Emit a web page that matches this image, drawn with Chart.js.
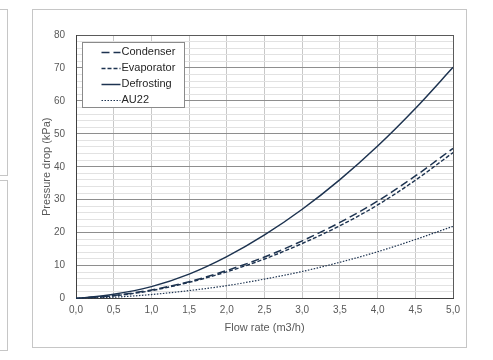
<!DOCTYPE html>
<html>
<head>
<meta charset="utf-8">
<script src="https://cdn.jsdelivr.net/npm/chart.js@4.4.1/dist/chart.umd.min.js"></script>
<style>
  body { margin: 0; width: 493px; height: 360px; background: #fff; overflow: hidden; position: relative; }
  .frame { position: absolute; border: 1px solid #c6c6c6; box-sizing: border-box; }
  #wrap { position: absolute; left: 33px; top: 10px; width: 433px; height: 337px; }
</style>
</head>
<body>
<div class="frame" style="left:-300px; top:9px; width:308px; height:167px;"></div>
<div class="frame" style="left:-300px; top:180px; width:308px; height:171px;"></div>
<div class="frame" style="left:32px; top:9px; width:435px; height:339px;"></div>
<div id="wrap"><canvas id="chart" width="433" height="337"></canvas></div>
<script>
// values
const flowRates = [0, 0.5, 1.0, 1.5, 2.0, 2.5, 3.0, 3.5, 4.0, 4.5, 5.0];
const condenser = [0, 0.9, 2.6, 5.1, 8.5, 12.6, 17.5, 23.1, 29.6, 37.2, 45.6];
const evaporator = [0, 0.8, 2.4, 4.9, 8.1, 12.0, 16.7, 22.1, 28.4, 35.9, 44.3];
const defrosting = [0, 1.3, 3.6, 7.4, 12.7, 19.3, 27.1, 36.1, 46.3, 57.7, 70.2];
const au22 = [0, 0.4, 1.2, 2.4, 3.9, 5.9, 8.2, 11.0, 14.2, 17.9, 21.9];

const seriesNames = ['Condenser', 'Evaporator', 'Defrosting', 'AU22'];
const lineColor = '#1d3350';
const font = "'Liberation Sans', Arial, sans-serif";

function points(values) {
  return values.map((v, i) => ({ x: flowRates[i], y: v }));
}

function series(label, values, dash, width) {
  return {
    label,
    data: points(values),
    borderColor: lineColor,
    borderWidth: width,
    borderDash: dash,
    pointRadius: 0,
    fill: false,
    cubicInterpolationMode: 'monotone',
  };
}

// legend box inside the plot, top left
const boxLegend = {
  id: 'boxLegend',
  afterDatasetsDraw(chart) {
    const { ctx, chartArea } = chart;
    const x = chartArea.left + 6.5;
    const y = chartArea.top + 7.5;
    ctx.save();
    ctx.fillStyle = '#fff';
    ctx.strokeStyle = '#8a8a8a';
    ctx.lineWidth = 1;
    ctx.fillRect(x, y, 102, 65);
    ctx.strokeRect(x, y, 102, 65);
    ctx.font = '11px ' + font;
    ctx.textBaseline = 'middle';
    chart.data.datasets.forEach((ds, i) => {
      const ly = y + 9 + i * 16;
      ctx.strokeStyle = ds.borderColor;
      ctx.lineWidth = ds.borderWidth;
      ctx.setLineDash(ds.borderDash);
      ctx.beginPath();
      ctx.moveTo(x + 19, Math.round(ly) + 0.5);
      ctx.lineTo(x + 38, Math.round(ly) + 0.5);
      ctx.stroke();
      ctx.setLineDash([]);
      ctx.fillStyle = '#262626';
      ctx.fillText(ds.label, x + 39, ly);
    });
    ctx.restore();
  },
};

const chart = new Chart(document.getElementById('chart'), {
  type: 'line',
  data: {
    datasets: [
      series(seriesNames[0], condenser, [8, 4], 1.5),
      series(seriesNames[1], evaporator, [4, 2], 1.4),
      series(seriesNames[2], defrosting, [], 1.5),
      series(seriesNames[3], au22, [1.5, 1.5], 1.2),
    ],
  },
  options: {
    responsive: false,
    devicePixelRatio: 1,
    animation: false,
    layout: { padding: { top: 25, right: 10, left: 0, bottom: 0 } },
    plugins: { legend: { display: false }, tooltip: { enabled: false } },
    scales: {
      x: {
        type: 'linear',
        min: 0,
        max: 5,
        afterFit(scale) { scale.height = 48.5; },
        ticks: {
          stepSize: 0.5,
          color: '#595959',
          font: { family: font, size: 10 },
          padding: 6,
          maxRotation: 0,
          callback: (v) => v.toFixed(1).replace('.', ','),
        },
        grid: {
          drawTicks: false,
          color: (c) => (c.tick && c.tick.value === 5 ? '#5a5a5a' : '#c8c8c8'),
        },
        border: { color: '#404040', width: 1 },
        title: {
          display: true,
          text: 'Flow rate (m3/h)',
          color: '#595959',
          font: { family: font, size: 11 },
          padding: { top: 0, bottom: 12 },
        },
      },
      y: {
        min: 0,
        max: 80,
        afterFit(scale) { scale.width = 43; },
        ticks: {
          stepSize: 2,
          autoSkip: false,
          color: '#595959',
          font: { family: font, size: 10 },
          padding: 11,
          callback: (v) => (v % 10 === 0 ? String(v) : ''),
        },
        grid: {
          drawTicks: false,
          color: (c) => {
            const v = c.tick ? c.tick.value : 0;
            if (v === 80) return '#5a5a5a';
            return v % 10 === 0 ? '#8e8e8e' : '#e2e2e2';
          },
        },
        border: { color: '#404040', width: 1 },
        title: {
          display: true,
          text: 'Pressure drop (kPa)',
          color: '#595959',
          font: { family: font, size: 11 },
          padding: { top: 7, bottom: 0 },
        },
      },
    },
  },
  plugins: [boxLegend],
});
</script>
</body>
</html>
